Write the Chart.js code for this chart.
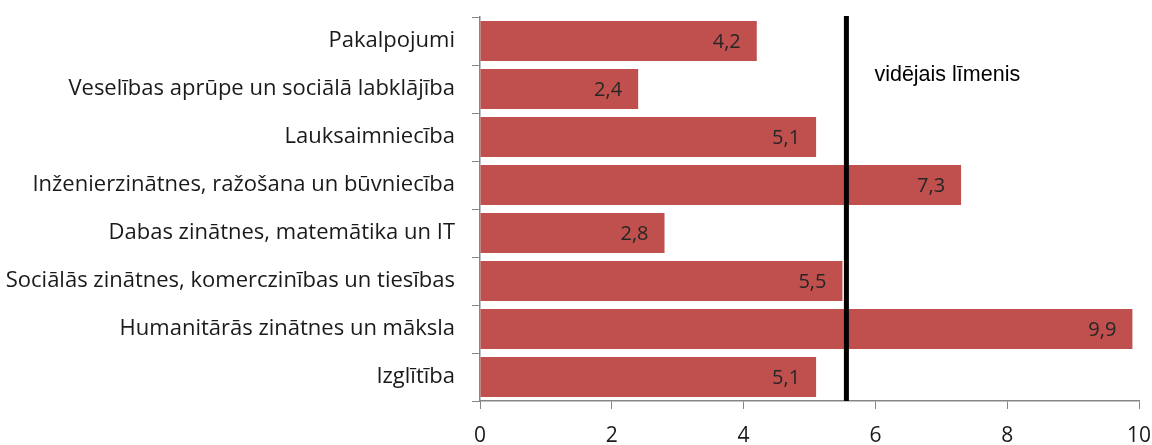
<!DOCTYPE html>
<html><head><meta charset="utf-8">
<script src="https://cdn.jsdelivr.net/npm/chart.js@4/dist/chart.umd.min.js"></script>
<style>html,body{margin:0;padding:0;background:#fff;}#wrap{width:1152px;height:445px;}</style>
</head><body><div id="wrap"><canvas id="c" width="1152" height="445"></canvas></div>
<script>
const categories = ["Pakalpojumi","Veselības aprūpe un sociālā labklājība","Lauksaimniecība","Inženierzinātnes, ražošana un būvniecība","Dabas zinātnes, matemātika un IT","Sociālās zinātnes, komerczinības un tiesības","Humanitārās zinātnes un māksla","Izglītība"];
const values = [4.2,2.4,5.1,7.3,2.8,5.5,9.9,5.1];
const averageValue = 5.56;
const averageLabel = "vidējais līmenis";
const xTicks = [0,2,4,6,8,10];

const overlay = {
  id:'overlay',
  afterDatasetsDraw(chart){
    const ctx = chart.ctx, xs = chart.scales.x, ca = chart.chartArea;
    const meta = chart.getDatasetMeta(0);
    ctx.save();
    ctx.font = '20px "Open Sans", sans-serif';
    ctx.fillStyle = '#262626';
    ctx.textAlign = 'right'; ctx.textBaseline = 'middle';
    meta.data.forEach((b,i)=>{
      ctx.fillText(values[i].toFixed(1).replace('.',','), b.x - 16, b.y + 1);
    });
    const ax = xs.getPixelForValue(averageValue);
    ctx.strokeStyle = '#000'; ctx.lineWidth = 5;
    ctx.beginPath(); ctx.moveTo(ax, ca.top - 1); ctx.lineTo(ax, ca.bottom); ctx.stroke();
    ctx.font = '21.5px "Liberation Sans", Arial, sans-serif';
    ctx.fillStyle = '#000'; ctx.textAlign = 'left';
    ctx.fillText(averageLabel, ax + 28, ca.top + 58);
    ctx.restore();
  }
};

new Chart(document.getElementById('c'), {
  type:'bar',
  data:{labels:categories, datasets:[{data:values, backgroundColor:'#C0504D', borderWidth:0, barPercentage:0.83, categoryPercentage:1}]},
  options:{
    indexAxis:'y', responsive:false, animation:false,
    layout:{padding:{top:17,right:13,left:0,bottom:0}},
    plugins:{legend:{display:false}, tooltip:{enabled:false}},
    scales:{
      x:{min:0,max:10,
        afterBuildTicks(s){ s.ticks = xTicks.map(v=>({value:v})); },
        afterFit(s){ s.height = 44; s.paddingLeft = 0; s.paddingRight = 0; },
        grid:{drawOnChartArea:false, drawTicks:true, tickLength:8, color:'#868686'},
        border:{color:'#868686', width:1.5},
        ticks:{padding:14, color:'#1a1a1a', font:{family:'"Open Sans", sans-serif', size:21}}
      },
      y:{
        afterFit(s){ s.width = 480; s.paddingTop = 0; s.paddingBottom = 0; },
        grid:{drawOnChartArea:false, drawTicks:true, tickLength:8, color:'#868686', offset:true},
        border:{color:'#868686', width:1.5},
        ticks:{padding:17, color:'#1a1a1a', font:{family:'"Open Sans", sans-serif', size:22}}
      }
    }
  },
  plugins:[overlay]
});
</script></body></html>
